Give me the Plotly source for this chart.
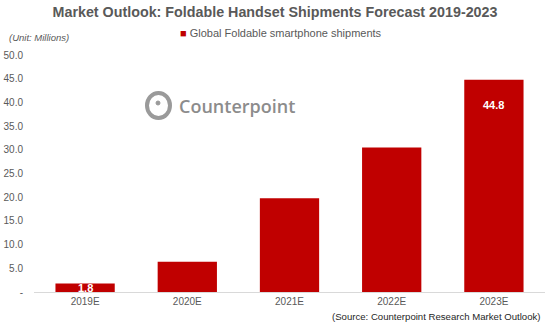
import plotly.graph_objects as go

categories = ["2019E", "2020E", "2021E", "2022E", "2023E"]
shipments = [1.8, 6.4, 19.8, 30.5, 44.8]
bar_labels = ["1.8", "", "", "", "44.8"]
series_name = "Global Foldable smartphone shipments"
tick_values = [0, 5, 10, 15, 20, 25, 30, 35, 40, 45, 50]
tick_labels = ["-", "5.0", "10.0", "15.0", "20.0", "25.0", "30.0", "35.0", "40.0", "45.0", "50.0"]

W, H = 550, 330
ML, MR, MT, MB = 34, 5, 55, 38
PW, PH = W - ML - MR, H - MT - MB
BAR_COLOR = "#C00000"

def px(x):
    return (x - ML) / PW

def py(y):
    return (H - MB - y) / PH

FONT = "Liberation Sans, Arial, sans-serif"
GRAY = "#595959"

fig = go.Figure()
fig.add_trace(go.Bar(
    x=categories, y=shipments,
    name=series_name,
    marker=dict(color=BAR_COLOR, line=dict(width=0)),
    hoverinfo="x+y",
    showlegend=False,
))

annotations = []
for cat, val, lab in zip(categories, shipments, bar_labels):
    if not lab:
        continue
    if val < 5:
        annotations.append(dict(x=cat, y=val / 2, text=f"<b>{lab}</b>", showarrow=False,
                                xref="x", yref="y", yanchor="middle",
                                font=dict(family=FONT, size=11, color="white")))
    else:
        annotations.append(dict(x=cat, y=val, text=f"<b>{lab}</b>", showarrow=False,
                                xref="x", yref="y", yanchor="top", yshift=-17,
                                font=dict(family=FONT, size=11, color="white")))

annotations += [
    # legend entry
    dict(text=f"<span style='color:{BAR_COLOR}'>■</span> {series_name}",
         x=px(178), y=py(33), xref="paper", yref="paper",
         xanchor="left", yanchor="middle", showarrow=False,
         font=dict(family=FONT, size=11, color=GRAY)),
    dict(text="<i>(Unit: Millions)</i>", x=px(7), y=py(37), xref="paper", yref="paper",
         xanchor="left", yanchor="middle", showarrow=False,
         font=dict(family=FONT, size=9.5, color=GRAY)),
    dict(text="(Source: Counterpoint Research Market Outlook)", x=px(543), y=py(316),
         xref="paper", yref="paper", xanchor="right", yanchor="middle", showarrow=False,
         font=dict(family=FONT, size=9.6, color="#262626")),
    dict(text="Counterpoint", x=px(177), y=py(106), xref="paper", yref="paper",
         xanchor="left", yanchor="middle", showarrow=False,
         font=dict(family="Open Sans, sans-serif", size=18, color="#8c8c8c", weight=600)),
]

shapes = [
    dict(type="circle", xref="paper", yref="paper",
         x0=px(147), x1=px(170), y0=py(93), y1=py(118),
         line=dict(color="#9a9a9a", width=4), fillcolor="rgba(0,0,0,0)", layer="below"),
    dict(type="circle", xref="paper", yref="paper",
         x0=px(156), x1=px(160), y0=py(101), y1=py(105),
         line=dict(color="#9a9a9a", width=1), fillcolor="#9a9a9a", layer="below"),
]

fig.update_layout(
    width=W, height=H,
    margin=dict(l=ML, r=MR, t=MT, b=MB),
    paper_bgcolor="white", plot_bgcolor="white",
    font=dict(family=FONT, color=GRAY, size=10),
    title=dict(text="<b>Market Outlook: Foldable Handset Shipments Forecast 2019-2023</b>",
               x=0.5, xref="container", xanchor="center",
               y=1 - 12 / H, yref="container", yanchor="middle",
               font=dict(family=FONT, size=14.3, color=GRAY)),
    showlegend=False,
    bargap=0.42,
    xaxis=dict(showline=True, linecolor="#d9d9d9", linewidth=1, ticks="",
               showgrid=False, tickfont=dict(size=10, color=GRAY)),
    yaxis=dict(range=[0, 50], tickvals=tick_values, ticktext=tick_labels,
               showgrid=False, zeroline=False, showline=False, ticks="",
               ticklabelstandoff=10, tickfont=dict(size=10, color=GRAY)),
    annotations=annotations,
    shapes=shapes,
)

fig.write_html("out.html")
